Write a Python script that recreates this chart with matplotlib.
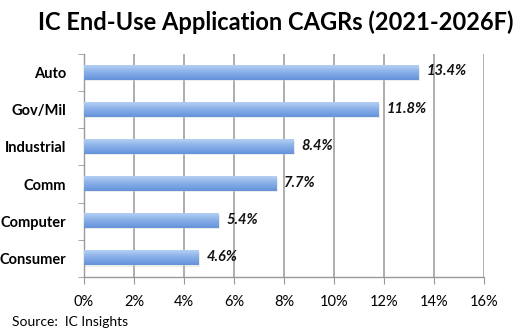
import numpy as np
import matplotlib.pyplot as plt
from matplotlib.colors import LinearSegmentedColormap

# data
categories = ["Auto", "Gov/Mil", "Industrial", "Comm", "Computer", "Consumer"]
cagr = [13.4, 11.8, 8.4, 7.7, 5.4, 4.6]
labels = ["13.4%", "11.8%", "8.4%", "7.7%", "5.4%", "4.6%"]
xticks = [0, 2, 4, 6, 8, 10, 12, 14, 16]

plt.rcParams['font.family'] = ['Lato', 'DejaVu Sans']

fig = plt.figure(figsize=(5.26, 3.35), dpi=100)
ax = fig.add_axes([84 / 526, 1 - 277 / 335, 400 / 526, 223 / 335])

n = len(categories)
y = np.arange(n)[::-1]
bar_h = 0.38

# gradient fill for bars (light top -> darker bottom)
cmap = LinearSegmentedColormap.from_list("bar", ["#b4cff3", "#86ade7", "#6593da"])
grad = np.linspace(0, 1, 50).reshape(-1, 1)
for yi, v in zip(y, cagr):
    # soft shadow
    ax.barh(yi - 0.03, v, height=bar_h, left=0.05, color="#d0d0d0", alpha=0.4, zorder=2, linewidth=0)
    ax.imshow(grad, cmap=cmap, aspect="auto", zorder=3,
              extent=(0, v, yi - bar_h / 2, yi + bar_h / 2), origin="upper")

for yi, v, lab in zip(y, cagr, labels):
    ax.text(v + 0.3, yi + 0.03, lab, va="center", ha="left", fontsize=10.5,
            fontweight="bold", fontstyle="italic", color="#111111", zorder=4)

ax.set_xlim(0, 16)
ax.set_ylim(-0.5, n - 0.5)
ax.set_xticks(xticks)
ax.set_xticklabels([f"{t}%" for t in xticks], fontsize=10.5)
ax.set_yticks(y)
ax.set_yticklabels(categories, fontsize=10.5, fontweight="bold")
ax.set_yticks(np.arange(-0.5, n, 1), minor=True)

ax.grid(axis="x", color="#a0a0a0", linewidth=1.2, zorder=0)
ax.set_axisbelow(True)
for s in ["top", "right"]:
    ax.spines[s].set_visible(False)
for s in ["left", "bottom"]:
    ax.spines[s].set_color("#999999")
    ax.spines[s].set_linewidth(1)
ax.tick_params(axis="x", length=5, color="#999999", pad=8)
ax.tick_params(axis="y", which="major", length=0, pad=13)
ax.tick_params(axis="y", which="minor", length=4, color="#999999")

fig.text(276 / 526, 1 - 22 / 335, "IC End-Use Application CAGRs (2021-2026F)",
         ha="center", va="center", fontsize=17, fontweight="bold")
fig.text(12 / 526, 1 - 322 / 335, "Source:  IC Insights", ha="left", va="center", fontsize=10)

fig.savefig("out.png", dpi=100)
